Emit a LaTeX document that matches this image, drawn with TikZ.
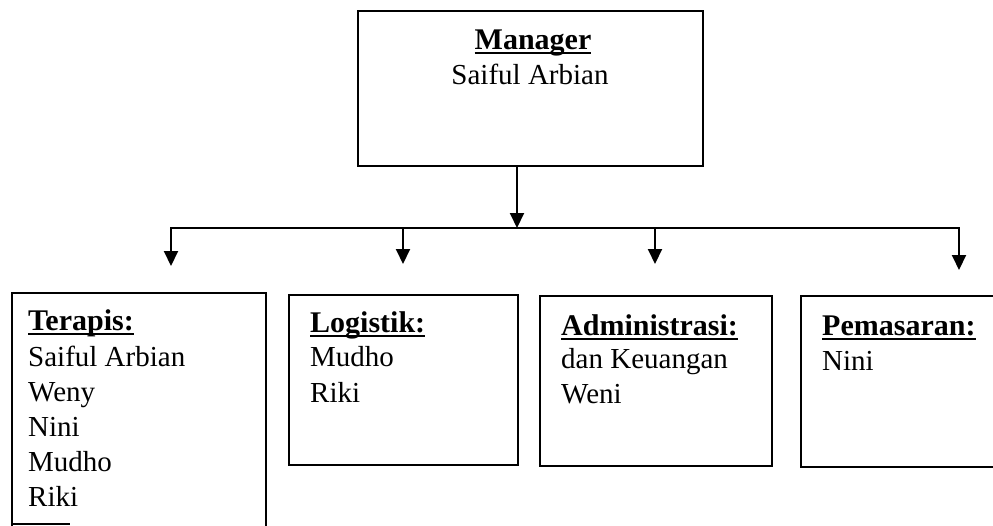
\documentclass[tikz,border=0pt]{standalone}
\usepackage{fontspec}
\setmainfont{Liberation Serif}
\usetikzlibrary{arrows.meta}
\newsavebox{\hdbox}
\newcommand{\hdul}[1]{\sbox{\hdbox}{#1}\rlap{\rule[-5pt]{\wd\hdbox}{2pt}}\usebox{\hdbox}}
\begin{document}
\begin{tikzpicture}[x=1pt,y=-1pt,
  box/.style={draw, line width=2pt, rectangle, inner sep=0pt, anchor=north west},
  txt/.style={anchor=base west, inner sep=0pt, font=\fontsize{29}{35}\selectfont},
  head/.style={anchor=base west, inner sep=0pt, font=\fontsize{30}{35}\selectfont\bfseries},
  ctxt/.style={txt, anchor=base},
  arr/.style={-{Triangle[length=15pt,width=14pt]}, line width=2pt}]
\useasboundingbox (0,0) rectangle (993,525);
% boxes
\node[box, minimum width=345pt, minimum height=155pt] (mgr) at (357,10) {};
\node[box, minimum width=254pt, minimum height=245pt] (ter) at (11,292) {};
\node[box, minimum width=229pt, minimum height=170pt] (log) at (288,294) {};
\node[box, minimum width=232pt, minimum height=170pt] (adm) at (539,295) {};
\node[box, minimum width=230pt, minimum height=171pt] (pem) at (800,295) {};
\draw[line width=2pt] (ter.north west |- 0,524) -- ++(59,0);
% manager text
\node[head, anchor=base] (mgrH) at (533,49) {\hdul{Manager}};
\node[ctxt] (mgrN) at (530,84) {Saiful Arbian};
% terapis
\node[head] (terH) at (28,330) {\hdul{Terapis:}};
\node[txt] (ter1) at (28,366) {Saiful Arbian};
\node[txt] (ter2) at (28,401) {Weny};
\node[txt] (ter3) at (28,436) {Nini};
\node[txt] (ter4) at (28,471) {Mudho};
\node[txt] (ter5) at (28,506) {Riki};
% logistik
\node[head] (logH) at (310,332) {\hdul{Logistik:}};
\node[txt] (log1) at (310,366) {Mudho};
\node[txt] (log2) at (310,402) {Riki};
% administrasi
\node[head] (admH) at (561,335) {\hdul{Administrasi:}};
\node[txt] (adm1) at (561,368) {dan Keuangan};
\node[txt] (adm2) at (561,403) {Weni};
% pemasaran
\node[head] (pemH) at (822,335) {\hdul{Pemasaran:}};
\node[txt] (pem1) at (822,370) {Nini};
% connectors
\coordinate (bus) at (517,228);
\coordinate (busL) at (171,228);
\coordinate (busR) at (959,228);
\coordinate (tL) at (171,266);
\coordinate (tLog) at (403,264);
\coordinate (tAdm) at (655,264);
\coordinate (tPem) at (959,270);
\draw[arr] (mgr.south -| bus) -- (bus);
\draw[arr] (bus) -- (busL) -- (tL);
\draw[arr] (bus) -- (busR) -- (tPem);
\draw[arr] (tLog |- bus) -- (tLog);
\draw[arr] (tAdm |- bus) -- (tAdm);
\end{tikzpicture}
\end{document}
